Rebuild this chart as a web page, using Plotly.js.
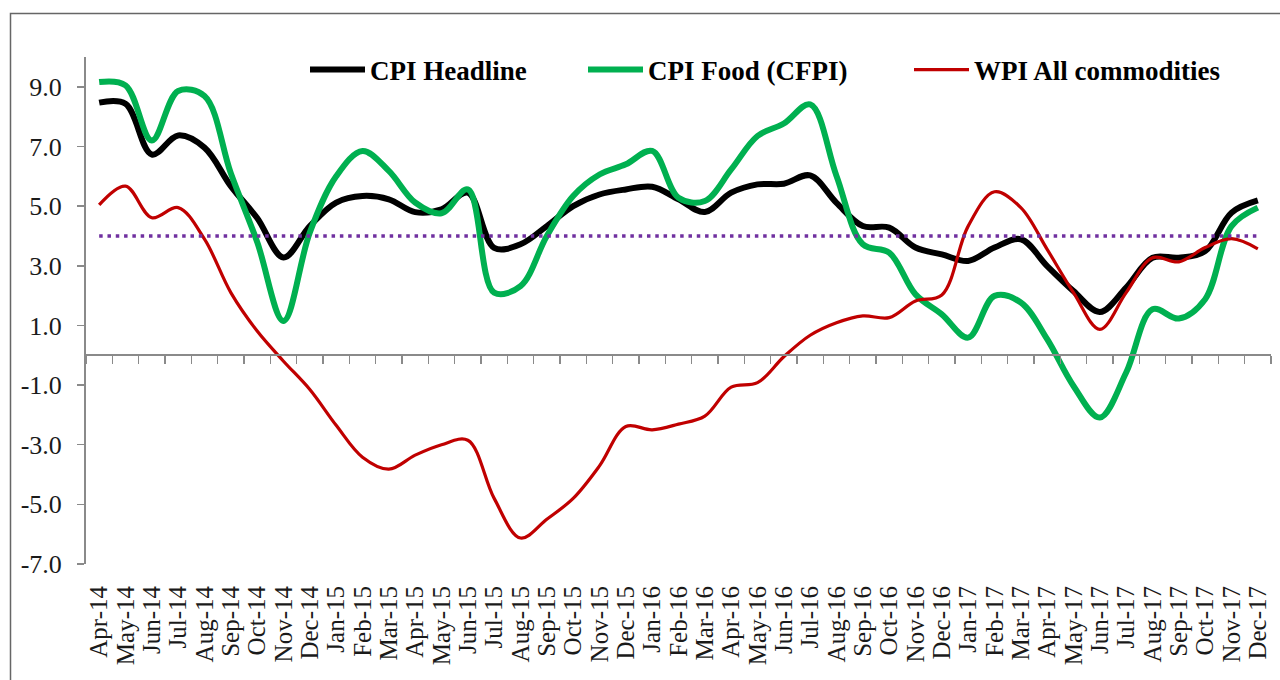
<!DOCTYPE html>
<html>
<head>
<meta charset="utf-8">
<script src="https://cdn.plot.ly/plotly-3.0.1.min.js"></script>
<style>
html, body { margin: 0; padding: 0; background: #ffffff; }
#chart { width: 1280px; height: 680px; }
</style>
</head>
<body>
<div id="chart"></div>
<script>
// ---- data ----
const months = [
  'Apr-14','May-14','Jun-14','Jul-14','Aug-14','Sep-14','Oct-14','Nov-14','Dec-14',
  'Jan-15','Feb-15','Mar-15','Apr-15','May-15','Jun-15','Jul-15','Aug-15','Sep-15','Oct-15','Nov-15','Dec-15',
  'Jan-16','Feb-16','Mar-16','Apr-16','May-16','Jun-16','Jul-16','Aug-16','Sep-16','Oct-16','Nov-16','Dec-16',
  'Jan-17','Feb-17','Mar-17','Apr-17','May-17','Jun-17','Jul-17','Aug-17','Sep-17','Oct-17','Nov-17','Dec-17'
];

const cpiHeadline = [
  8.47, 8.43, 6.73, 7.37, 6.96, 5.67, 4.60, 3.28, 4.33, 5.12, 5.34, 5.23, 4.80, 4.89, 5.45,
  3.60, 3.72, 4.33, 5.00, 5.39, 5.56, 5.65, 5.23, 4.80, 5.45, 5.73, 5.75, 6.03, 5.11, 4.33,
  4.28, 3.61, 3.38, 3.16, 3.61, 3.89, 2.99, 2.15, 1.45, 2.27, 3.27, 3.27, 3.49, 4.78, 5.19
];

const cpiFood = [
  9.16, 9.05, 7.20, 8.86, 8.69, 6.10, 3.80, 1.15, 4.12, 6.00, 6.85, 6.18, 5.12, 4.76, 5.56,
  2.10, 2.32, 4.00, 5.34, 6.06, 6.40, 6.85, 5.28, 5.17, 6.23, 7.35, 7.77, 8.41, 6.01, 3.72,
  3.44, 2.04, 1.37, 0.59, 1.99, 1.77, 0.54, -1.03, -2.09, -0.58, 1.54, 1.23, 1.88, 4.33, 4.95
];

const wpiAll = [
  5.04, 5.67, 4.61, 4.95, 3.89, 2.10, 0.81, -0.20, -1.15, -2.35, -3.42, -3.82, -3.35, -3.00, -2.85,
  -4.80, -6.13, -5.50, -4.80, -3.71, -2.39, -2.50, -2.31, -2.04, -1.07, -0.92, -0.05, 0.67, 1.09, 1.32,
  1.26, 1.82, 2.02, 4.33, 5.48, 4.95, 3.55, 2.10, 0.87, 2.10, 3.27, 3.13, 3.61, 3.91, 3.57
];

const targetLevel = 4.0;
const yTickValues = [-7, -5, -3, -1, 1, 3, 5, 7, 9];
const yTickLabels = ['-7.0', '-5.0', '-3.0', '-1.0', '1.0', '3.0', '5.0', '7.0', '9.0'];
const seriesNames = ['CPI Headline', 'CPI Food (CFPI)', 'WPI All commodities'];

// ---- layout helpers ----
const serif = '"Liberation Serif", "Times New Roman", serif';
const yMin = -7, yMax = 10;
const M = { l: 86, r: 9, t: 57, b: 116 };
const W = 1280, H = 680;
const plotW = W - M.l - M.r, plotH = H - M.t - M.b;
const px2fx = p => (p - M.l) / plotW;
const py2fy = p => (H - M.b - p) / plotH;
const catRange = [-0.5, months.length - 0.5];

const traces = [
  {
    x: months, y: cpiHeadline, name: seriesNames[0], type: 'scatter', mode: 'lines',
    line: { color: '#000000', width: 6, shape: 'spline', smoothing: 1 },
    legend: 'legend', hoverinfo: 'x+y+name'
  },
  {
    x: months, y: cpiFood, name: seriesNames[1], type: 'scatter', mode: 'lines',
    line: { color: '#00B050', width: 6, shape: 'spline', smoothing: 1 },
    legend: 'legend2', hoverinfo: 'x+y+name'
  },
  {
    x: months, y: wpiAll, name: seriesNames[2], type: 'scatter', mode: 'lines',
    line: { color: '#C00000', width: 3.2, shape: 'spline', smoothing: 1 },
    legend: 'legend3', hoverinfo: 'x+y+name'
  },
  {
    x: [months[0], months[months.length - 1]], y: [targetLevel, targetLevel],
    xaxis: 'x2', yaxis: 'y', type: 'scatter', mode: 'lines', showlegend: false,
    line: { color: '#7030A0', width: 3.5, dash: '3.5px,4.8px' }, hoverinfo: 'skip'
  }
];

const legendCommon = {
  orientation: 'h', xanchor: 'left', yanchor: 'middle', y: py2fy(70),
  bgcolor: 'rgba(0,0,0,0)', borderwidth: 0, itemwidth: 55,
  font: { family: serif, size: 27, weight: 'bold', color: '#000000' }
};

const layout = {
  width: W, height: H,
  margin: M,
  paper_bgcolor: '#ffffff', plot_bgcolor: '#ffffff',
  showlegend: true,
  legend: Object.assign({}, legendCommon, { x: px2fx(305) }),
  legend2: Object.assign({}, legendCommon, { x: px2fx(583) }),
  legend3: Object.assign({}, legendCommon, { x: px2fx(909) }),
  xaxis: {
    type: 'category', categoryorder: 'array', categoryarray: months, range: catRange,
    tickmode: 'linear', tick0: 0, dtick: 1,
    showline: false, ticks: '', showgrid: false, zeroline: false,
    tickangle: -90, ticklabelstandoff: 16,
    tickfont: { family: serif, size: 25, color: '#1a1a1a' }, fixedrange: true
  },
  xaxis2: {
    type: 'category', categoryorder: 'array', categoryarray: months, range: catRange,
    overlaying: 'x', anchor: 'free', position: (0 - yMin) / (yMax - yMin), side: 'bottom',
    showline: true, linecolor: '#8a8a8a', linewidth: 2,
    ticks: 'outside', tickson: 'boundaries', ticklen: 8, tickwidth: 1.5, tickcolor: '#8a8a8a',
    showticklabels: false, showgrid: false, zeroline: false, fixedrange: true
  },
  yaxis: {
    range: [yMin, yMax], tickmode: 'array', tickvals: yTickValues, ticktext: yTickLabels,
    showline: true, linecolor: '#8a8a8a', linewidth: 2,
    ticks: 'outside', ticklen: 7, tickwidth: 1.5, tickcolor: '#8a8a8a',
    showgrid: false, zeroline: false, ticklabelstandoff: 10,
    tickfont: { family: serif, size: 26, color: '#1a1a1a' }, fixedrange: true
  },
  shapes: [
    {
      type: 'rect', xref: 'paper', yref: 'paper', layer: 'below',
      x0: px2fx(10.5), x1: px2fx(1295), y0: py2fy(700), y1: py2fy(13.5),
      line: { color: '#666666', width: 1.5 }, fillcolor: 'rgba(0,0,0,0)'
    }
  ]
};

Plotly.newPlot('chart', traces, layout, { displayModeBar: false, staticPlot: true });
</script>
</body>
</html>
